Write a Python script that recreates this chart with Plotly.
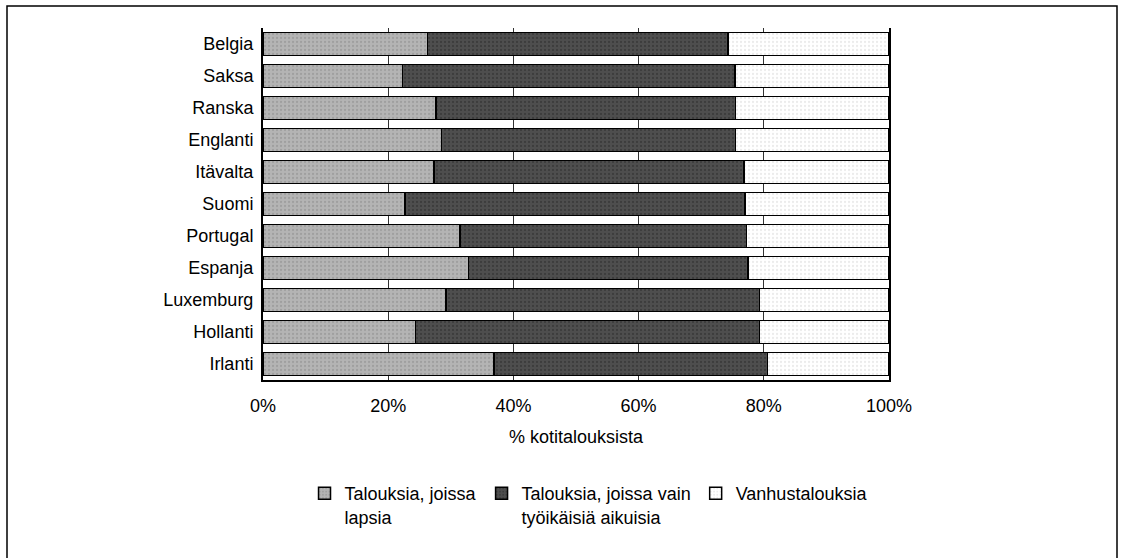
import plotly.graph_objects as go

countries = ["Belgia", "Saksa", "Ranska", "Englanti", "Itävalta", "Suomi",
             "Portugal", "Espanja", "Luxemburg", "Hollanti", "Irlanti"]
children = [26.3, 22.3, 27.6, 28.5, 27.3, 22.7, 31.5, 32.8, 29.2, 24.4, 36.9]
working = [48.0, 53.1, 47.9, 47.0, 49.5, 54.3, 45.7, 44.7, 50.1, 54.9, 43.7]
elderly = [25.7, 24.6, 24.5, 24.5, 23.2, 23.0, 22.8, 22.5, 20.7, 20.7, 19.4]

series_names = ["Talouksia, joissa<br>lapsia",
                "Talouksia, joissa vain<br>työikäisiä aikuisia",
                "Vanhustalouksia"]
series_values = [children, working, elderly]
fills = ["#b4b4b4", "#4e4e4e", "#ffffff"]
pattern_fg = ["#8a8a8a", "#2a2a2a", "#d8d8d8"]

FONT = "Liberation Sans, Arial, sans-serif"

fig = go.Figure()
for name, vals, col, pfg in zip(series_names, series_values, fills, pattern_fg):
    fig.add_trace(go.Bar(
        y=countries, x=vals, name=name, orientation="h",
        marker=dict(color=col, line=dict(color="#000000", width=1.5),
                    pattern=dict(shape=".", fgcolor=pfg, size=4, solidity=0.25)),
    ))

fig.update_layout(
    barmode="stack",
    bargap=0.29,
    width=1121, height=558,
    margin=dict(l=263, r=232, t=28, b=178),
    paper_bgcolor="white", plot_bgcolor="white",
    font=dict(family=FONT, size=18, color="#000000"),
    showlegend=True,
    legend=dict(orientation="h", x=0.52, xanchor="center", y=-0.27, yanchor="top",
                valign="top", font=dict(size=18, family=FONT), traceorder="normal",
                itemwidth=30),
    xaxis=dict(range=[0, 100], tickvals=[0, 20, 40, 60, 80, 100],
               ticktext=["0%", "20%", "40%", "60%", "80%", "100%"],
               showgrid=True, gridcolor="#333333", gridwidth=1,
               showline=True, linecolor="#000000", linewidth=2,
               ticks="", ticklabelstandoff=8, zeroline=False,
               title=dict(text="% kotitalouksista", standoff=16,
                          font=dict(size=18, family=FONT))),
    yaxis=dict(autorange="reversed", showline=True, linecolor="#000000", linewidth=2,
               mirror=True, ticks="", ticklabelstandoff=4, showgrid=False),
    shapes=[dict(type="rect", xref="paper", yref="paper",
                 x0=(7 - 263) / 626, x1=(1117 - 263) / 626,
                 y0=(380 - 575) / 352, y1=(380 - 6) / 352,
                 line=dict(color="#000000", width=1.5), fillcolor="rgba(0,0,0,0)",
                 layer="below")],
)

fig.write_html("out.html", config={"displayModeBar": False},
               post_script="document.body.style.margin='0';document.body.style.overflow='hidden';")
